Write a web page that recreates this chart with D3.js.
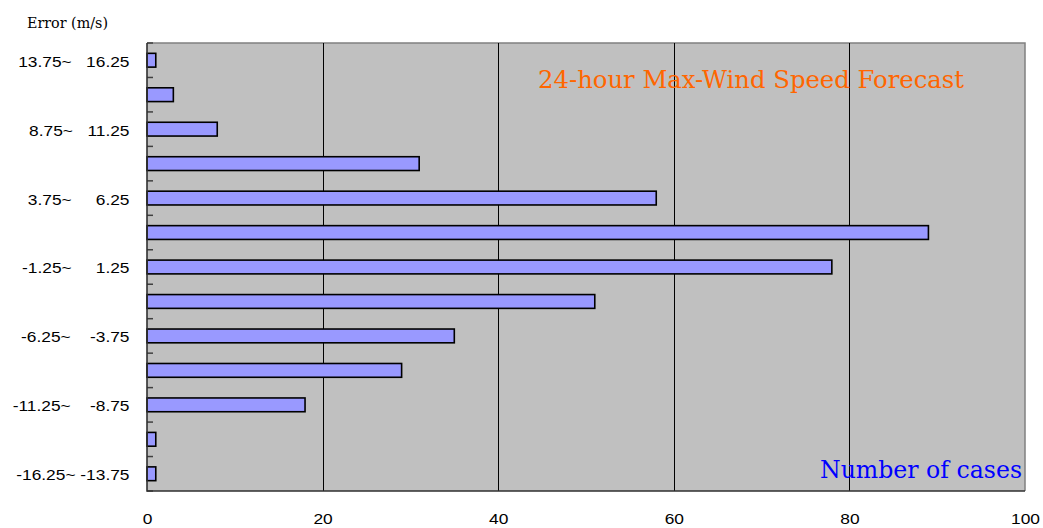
<!DOCTYPE html>
<html>
<head>
<meta charset="utf-8">
<script src="https://cdn.jsdelivr.net/npm/d3@7"></script>
<style>
  body { margin: 0; background: #fff; }
  svg { display: block; }
  text { white-space: pre; }
</style>
</head>
<body>
<div id="chart"></div>
<script>
// error bins, top to bottom
const bins = ["13.75~16.25", "11.25~13.75", "8.75~11.25", "6.25~8.75", "3.75~6.25", "1.25~3.75",
    "-1.25~1.25", "-3.75~-1.25", "-6.25~-3.75", "-8.75~-6.25", "-11.25~-8.75", "-13.75~-11.25", "-16.25~-13.75"];
const counts = [1, 3, 8, 31, 58, 89, 78, 51, 35, 29, 18, 1, 1];
// only every other bin carries a label
const binLabels = ["13.75~   16.25", "", "8.75~   11.25", "", "3.75~     6.25", "",
    "-1.25~     1.25", "", "-6.25~    -3.75", "", "-11.25~    -8.75", "", "-16.25~ -13.75"];
const xTicks = [0, 20, 40, 60, 80, 100];

const W = 1043, H = 528;
const plot = { left: 147, right: 1025, top: 43, bottom: 491 };
const stretch = 1.24;   // labels in the picture are drawn a bit wide

const svg = d3.select("#chart").append("svg")
    .attr("width", W)
    .attr("height", H);

const x = d3.scaleLinear()
    .domain([0, 100])
    .range([plot.left, plot.right]);

const y = d3.scaleBand()
    .domain(bins)
    .range([plot.top, plot.bottom])
    .paddingInner(0.6)
    .paddingOuter(0.3);

// plot background
svg.append("rect")
    .attr("x", plot.left)
    .attr("y", plot.top)
    .attr("width", plot.right - plot.left)
    .attr("height", plot.bottom - plot.top)
    .attr("fill", "#c0c0c0");

// top and right border
svg.append("path")
    .attr("d", `M${plot.left},${plot.top}H${plot.right}V${plot.bottom}`)
    .attr("fill", "none")
    .attr("stroke", "#808080")
    .attr("stroke-width", 1.5);

// vertical grid lines
svg.append("g")
    .selectAll("line")
    .data(xTicks.filter(d => d > 0 && d < 100))
    .join("line")
    .attr("x1", d => Math.round(x(d)) + 0.5)
    .attr("x2", d => Math.round(x(d)) + 0.5)
    .attr("y1", plot.top)
    .attr("y2", plot.bottom)
    .attr("stroke", "#000")
    .attr("stroke-width", 1);

// bars
svg.append("g")
    .selectAll("rect")
    .data(counts)
    .join("rect")
    .attr("x", x(0))
    .attr("y", (d, i) => y(bins[i]))
    .attr("width", d => x(d) - x(0))
    .attr("height", y.bandwidth())
    .attr("fill", "#9999ff")
    .attr("stroke", "#000")
    .attr("stroke-width", 1.6);

// category boundary ticks, pointing into the plot
const step = y.step();
svg.append("g")
    .selectAll("line")
    .data(d3.range(bins.length + 1))
    .join("line")
    .attr("x1", plot.left)
    .attr("x2", plot.left + 6)
    .attr("y1", i => plot.top + i * step)
    .attr("y2", i => plot.top + i * step)
    .attr("stroke", "#404040")
    .attr("stroke-width", 1.5);

// left axis labels
const yAxis = svg.append("g")
    .attr("transform", `translate(${plot.left},0)`)
    .call(d3.axisLeft(y)
        .tickSize(0)
        .tickFormat((d, i) => binLabels[i]));
yAxis.select(".domain").remove();
yAxis.selectAll("text")
    .attr("font-family", "'Liberation Sans', Arial, sans-serif")
    .attr("font-size", "14px")
    .attr("fill", "#000")
    .attr("x", -17.5 / stretch)
    .attr("dy", "0.46em")
    .attr("transform", `scale(${stretch},1)`);

// bottom axis labels
const xAxis = svg.append("g")
    .attr("transform", `translate(0,${plot.bottom})`)
    .call(d3.axisBottom(x)
        .tickValues(xTicks)
        .tickSize(0)
        .tickFormat(d3.format("d")));
xAxis.select(".domain").remove();
xAxis.selectAll("text")
    .attr("font-family", "'Liberation Sans', Arial, sans-serif")
    .attr("font-size", "14px")
    .attr("fill", "#000")
    .attr("y", 33)
    .attr("dy", 0)
    .attr("transform", `scale(${stretch},1)`);

// axis lines
svg.append("path")
    .attr("d", `M${plot.left},${plot.top}V${plot.bottom}H${plot.right}`)
    .attr("fill", "none")
    .attr("stroke", "#303030")
    .attr("stroke-width", 1.6);

// titles
svg.append("text")
    .attr("x", 27)
    .attr("y", 28)
    .attr("font-family", "'DejaVu Serif', serif")
    .attr("font-size", "15px")
    .attr("fill", "#000")
    .attr("textLength", 81)
    .attr("lengthAdjust", "spacingAndGlyphs")
    .text("Error (m/s)");

svg.append("text")
    .attr("x", 538)
    .attr("y", 88)
    .attr("font-family", "'DejaVu Serif', serif")
    .attr("font-size", "24px")
    .attr("fill", "#ff6600")
    .attr("textLength", 426)
    .attr("lengthAdjust", "spacingAndGlyphs")
    .text("24-hour Max-Wind Speed Forecast");

svg.append("text")
    .attr("x", 820)
    .attr("y", 478)
    .attr("font-family", "'DejaVu Serif', serif")
    .attr("font-size", "24px")
    .attr("fill", "#0000ff")
    .attr("textLength", 202)
    .attr("lengthAdjust", "spacingAndGlyphs")
    .text("Number of cases");
</script>
</body>
</html>
